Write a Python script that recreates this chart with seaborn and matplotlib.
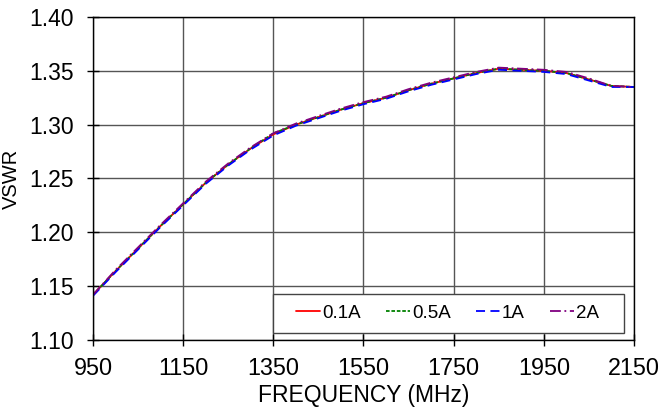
import pandas as pd
import seaborn as sns
import matplotlib.pyplot as plt
from matplotlib.patches import Rectangle

freq = [950, 1000, 1050, 1100, 1150, 1200, 1250, 1300, 1350, 1400, 1450, 1500, 1550,
        1600, 1650, 1700, 1750, 1800, 1850, 1900, 1950, 2000, 2050, 2100, 2150]
vswr_01 = [1.142, 1.164, 1.185, 1.206, 1.226, 1.246, 1.263, 1.278, 1.291, 1.300, 1.307, 1.314, 1.320,
           1.325, 1.332, 1.338, 1.343, 1.348, 1.352, 1.351, 1.350, 1.348, 1.342, 1.336, 1.335]
vswr_05 = [1.142, 1.164, 1.185, 1.206, 1.226, 1.246, 1.263, 1.278, 1.292, 1.300, 1.307, 1.314, 1.320,
           1.325, 1.332, 1.338, 1.343, 1.348, 1.352, 1.351, 1.350, 1.348, 1.342, 1.336, 1.335]
vswr_1 = [1.141, 1.163, 1.184, 1.205, 1.225, 1.245, 1.262, 1.277, 1.290, 1.299, 1.306, 1.313, 1.319,
          1.324, 1.331, 1.337, 1.342, 1.347, 1.351, 1.350, 1.349, 1.347, 1.341, 1.335, 1.335]
vswr_2 = [1.142, 1.165, 1.186, 1.207, 1.227, 1.247, 1.264, 1.279, 1.292, 1.301, 1.308, 1.315, 1.321,
          1.326, 1.333, 1.339, 1.344, 1.349, 1.353, 1.352, 1.351, 1.349, 1.343, 1.336, 1.335]
labels = ["0.1A", "0.5A", "1A", "2A"]

df = pd.concat([
    pd.DataFrame({"freq": freq, "vswr": v, "cur": lab})
    for v, lab in zip([vswr_01, vswr_05, vswr_1, vswr_2], labels)
])

sns.set_style("white")
plt.rcParams['font.family'] = ['Liberation Sans', 'DejaVu Sans']
plt.rcParams['text.color'] = 'black'
plt.rcParams['axes.labelcolor'] = 'black'
plt.rcParams['xtick.color'] = 'black'
plt.rcParams['ytick.color'] = 'black'
plt.rcParams['xtick.labelsize'] = 16.8
plt.rcParams['ytick.labelsize'] = 16.5
plt.rcParams['xtick.bottom'] = True
plt.rcParams['ytick.left'] = True
plt.rcParams['xtick.direction'] = 'inout'
plt.rcParams['ytick.direction'] = 'inout'
plt.rcParams['xtick.major.size'] = 9
plt.rcParams['ytick.major.size'] = 9
plt.rcParams['xtick.major.width'] = 1
plt.rcParams['ytick.major.width'] = 1
plt.rcParams['xtick.major.pad'] = 7.5
plt.rcParams['ytick.major.pad'] = 9

fig = plt.figure(figsize=(6.67, 4.12), dpi=100)
ax = fig.add_axes([0.1394, 0.1748, 0.8111, 0.7839])

styles = {"0.1A": ("red", "-"), "0.5A": ("green", (0, (2, 1))),
          "1A": ("blue", (0, (5, 3))), "2A": ("purple", (0, (6, 2, 1, 2)))}
for lab in labels:
    col, ls = styles[lab]
    sns.lineplot(data=df[df["cur"] == lab], x="freq", y="vswr", ax=ax,
                 color=col, linestyle=ls, lw=1.3, label=lab)

ax.set_xlim(950, 2150)
ax.set_ylim(1.10, 1.40)
ax.set_xticks(range(950, 2151, 200))
ax.set_yticks([1.10, 1.15, 1.20, 1.25, 1.30, 1.35, 1.40])
ax.set_yticklabels([f"{t:.2f}" for t in ax.get_yticks()])
ax.grid(True, color="#555555", lw=1)
for s in ax.spines.values():
    s.set_color("black")
    s.set_linewidth(1)
ax.set_xlabel("FREQUENCY (MHz)", fontsize=16.5, labelpad=3)
ax.set_ylabel("VSWR", fontsize=14.5, labelpad=6)

# legend box drawn separately so the padding matches
ax.add_patch(Rectangle((0.333, 0.0217), 0.648, 0.12, transform=ax.transAxes,
                       facecolor="white", edgecolor="#444444", lw=1, zorder=4))
leg = ax.legend(ncol=4, loc="center", bbox_to_anchor=(0.655, 0.083),
                fontsize=13.5, frameon=False, handlelength=1.3, handletextpad=0.1,
                columnspacing=1.33, borderaxespad=0)
leg.set_zorder(5)

fig.savefig("out.png", dpi=100)
